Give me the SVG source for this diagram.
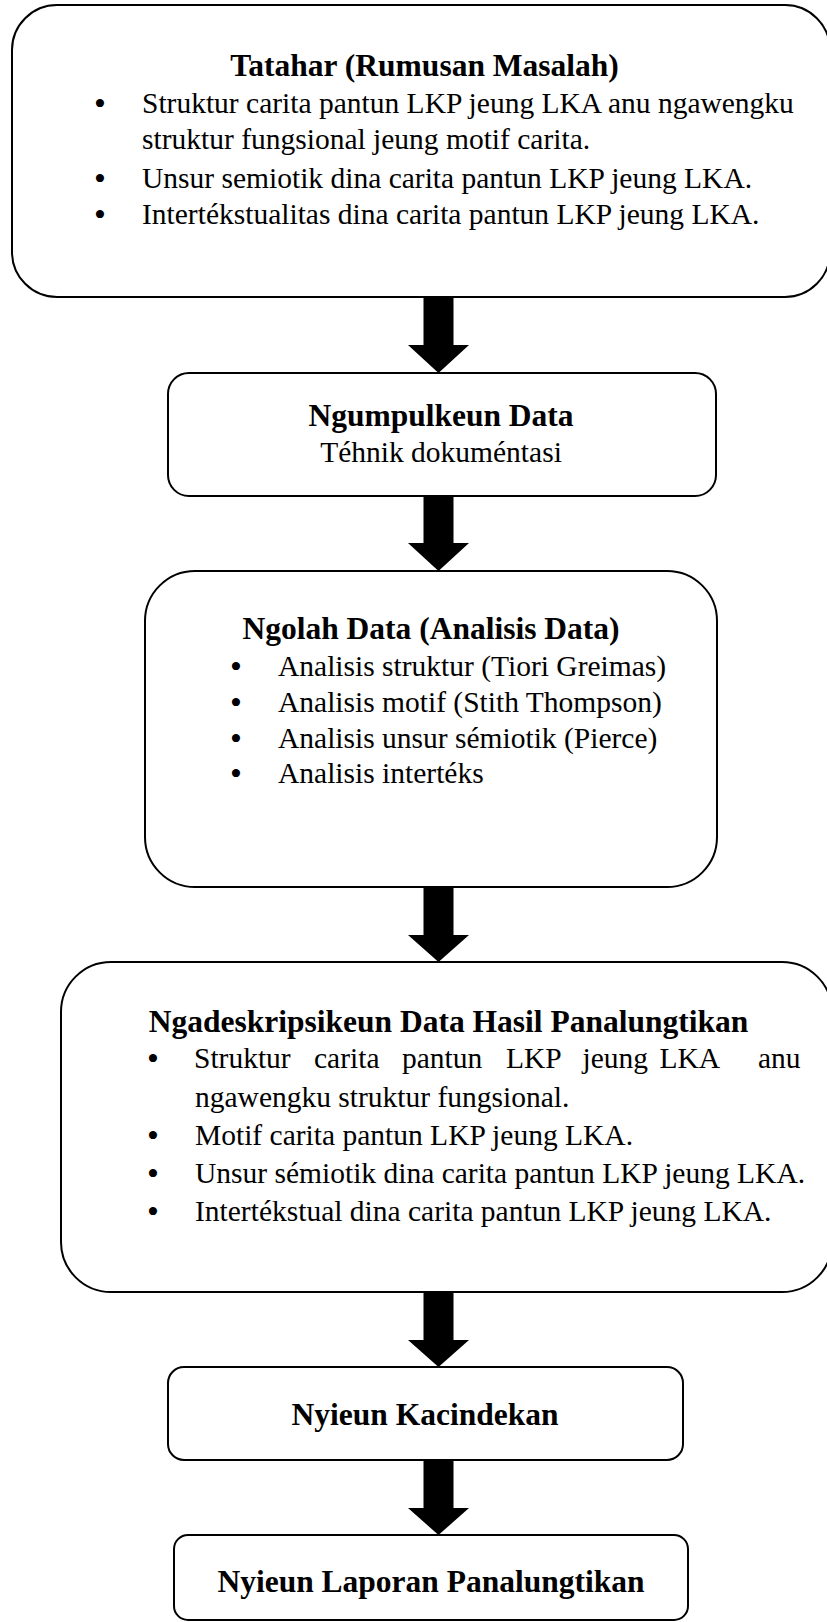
<svg xmlns="http://www.w3.org/2000/svg" width="827" height="1622" viewBox="0 0 827 1622">
<style>
.box{fill:#fff;stroke:#000;stroke-width:2}
.t{font-family:"Liberation Serif","Times New Roman",serif;fill:#000}
.h{font-size:31.5px;font-weight:bold;text-anchor:middle}
.b{font-size:29.5px}
.c{font-size:29.5px;text-anchor:middle}
.d{font-size:34px}
.arr{fill:#000}
</style>
<rect width="827" height="1622" fill="#fff"/>
<g id="connectors">
<polygon class="arr" points="423.5,297 453.5,297 453.5,345 469,345 438.5,373 408,345 423.5,345"/>
<polygon class="arr" points="423.5,496 453.5,496 453.5,543 469,543 438.5,571 408,543 423.5,543"/>
<polygon class="arr" points="423.5,887 453.5,887 453.5,935 469,935 438.5,962 408,935 423.5,935"/>
<polygon class="arr" points="423.5,1292 453.5,1292 453.5,1340 469,1340 438.5,1367 408,1340 423.5,1340"/>
<polygon class="arr" points="423.5,1460 453.5,1460 453.5,1508 469,1508 438.5,1535 408,1508 423.5,1508"/>
</g>
<g id="tatahar">
<rect class="box" x="12" y="5" width="818" height="292" rx="45"/>
<text class="t h" x="424.5" y="76">Tatahar (Rumusan Masalah)</text>
<text class="t b" y="112.5"><tspan class="d" x="94" dy="2">•</tspan><tspan x="142" dy="-2">Struktur carita pantun LKP jeung LKA anu ngawengku</tspan></text>
<text class="t b" x="142" y="148.5">struktur fungsional jeung motif carita.</text>
<text class="t b" y="187.5"><tspan class="d" x="94" dy="2">•</tspan><tspan x="142" dy="-2">Unsur semiotik dina carita pantun LKP jeung LKA.</tspan></text>
<text class="t b" y="223.5"><tspan class="d" x="94" dy="2">•</tspan><tspan x="142" dy="-2">Intertékstualitas dina carita pantun LKP jeung LKA.</tspan></text>
</g>
<g id="ngumpulkeun">
<rect class="box" x="168" y="373" width="548" height="123" rx="21"/>
<text class="t h" x="441" y="425.7">Ngumpulkeun Data</text>
<text class="t c" x="441" y="462.3">Téhnik dokuméntasi</text>
</g>
<g id="ngolah">
<rect class="box" x="145" y="571" width="572" height="316" rx="50"/>
<text class="t h" x="431" y="639">Ngolah Data (Analisis Data)</text>
<text class="t b" y="675.5"><tspan class="d" x="230" dy="2">•</tspan><tspan x="278" dy="-2">Analisis struktur (Tiori Greimas)</tspan></text>
<text class="t b" y="711.5"><tspan class="d" x="230" dy="2">•</tspan><tspan x="278" dy="-2">Analisis motif (Stith Thompson)</tspan></text>
<text class="t b" y="747.5"><tspan class="d" x="230" dy="2">•</tspan><tspan x="278" dy="-2">Analisis unsur sémiotik (Pierce)</tspan></text>
<text class="t b" y="783"><tspan class="d" x="230" dy="2">•</tspan><tspan x="278" dy="-2">Analisis intertéks</tspan></text>
</g>
<g id="ngadeskripsikeun">
<rect class="box" x="61" y="962" width="771" height="330" rx="50"/>
<text class="t h" x="448.5" y="1031.7">Ngadeskripsikeun Data Hasil Panalungtikan</text>
<text class="t b" y="1068"><tspan class="d" x="147" dy="2">•</tspan><tspan x="194" dy="-2">Struktur</tspan><tspan x="314">carita</tspan><tspan x="402">pantun</tspan><tspan x="506">LKP</tspan><tspan x="582.5">jeung</tspan><tspan x="659.5">LKA</tspan><tspan x="758">anu</tspan></text>
<text class="t b" x="195" y="1106.5">ngawengku struktur fungsional.</text>
<text class="t b" y="1144.5"><tspan class="d" x="147" dy="2">•</tspan><tspan x="195" dy="-2">Motif carita pantun LKP jeung LKA.</tspan></text>
<text class="t b" y="1183"><tspan class="d" x="147" dy="2">•</tspan><tspan x="195" dy="-2">Unsur sémiotik dina carita pantun LKP jeung LKA.</tspan></text>
<text class="t b" y="1220.5"><tspan class="d" x="147" dy="2">•</tspan><tspan x="195" dy="-2">Intertékstual dina carita pantun LKP jeung LKA.</tspan></text>
</g>
<g id="kacindekan">
<rect class="box" x="168" y="1367" width="515" height="93" rx="16"/>
<text class="t h" x="425" y="1425">Nyieun Kacindekan</text>
</g>
<g id="laporan">
<rect class="box" x="174" y="1535" width="514" height="85" rx="14"/>
<text class="t h" x="431" y="1591.7">Nyieun Laporan Panalungtikan</text>
</g>
</svg>
